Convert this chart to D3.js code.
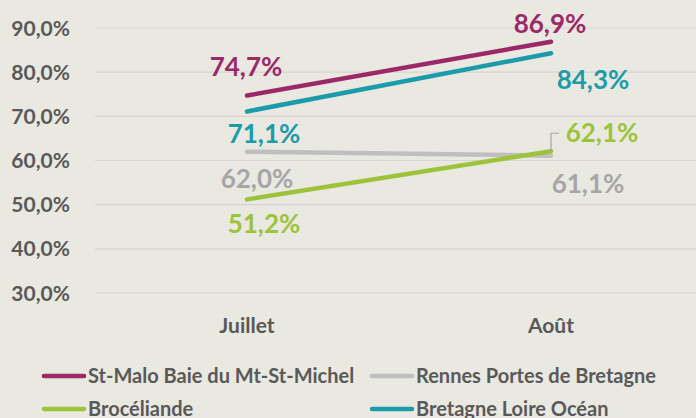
<!DOCTYPE html>
<html>
<head>
<meta charset="utf-8">
<script src="https://cdn.jsdelivr.net/npm/d3@7"></script>
<style>
  body { margin: 0; background: #E9E8E1; }
  svg { display: block; font-family: Lato, "Open Sans", sans-serif; font-weight: bold; }
</style>
</head>
<body>
<div id="chart"></div>
<script>
// data
var months = ["Juillet", "Août"];
var names = ["St-Malo Baie du Mt-St-Michel", "Rennes Portes de Bretagne", "Brocéliande", "Bretagne Loire Océan"];
var stMalo = [74.7, 86.9];
var rennes = [62.0, 61.1];
var broceliande = [51.2, 62.1];
var bretagne = [71.1, 84.3];
var yTicks = [30, 40, 50, 60, 70, 80, 90];

var colors = ["#9B2867", "#BFBFBF", "#9DC33B", "#1C9BAA"];
var labelColors = ["#9B2867", "#A6A6A6", "#9DC33B", "#1C9BAA"];
// label offsets from the point [dx, dy] for Juillet / Août
var labelOffsets = [
  [[-1, -20], [-1, -9]],
  [[10, 36], [37, 37]],
  [[17, 34], [51, -9]],
  [[17, 32], [42, 36]]
];

var series = [stMalo, rennes, broceliande, bretagne].map(function(v, i) {
  return {name: names[i], values: v, color: colors[i], label: labelColors[i], off: labelOffsets[i]};
});

var W = 696, H = 418;
var fmt = function(v) { return v.toFixed(1).replace(".", ",") + "%"; };

var x = d3.scaleBand().domain(months).range([95, 703]);
var y = d3.scaleLinear().domain([30, 90]).range([293, 28]);
var px = function(m) { return x(m) + x.bandwidth() / 2; };

var svg = d3.select("#chart").append("svg")
  .attr("width", W).attr("height", H);

svg.append("rect").attr("width", W).attr("height", H).attr("fill", "#E9E8E1");

// gridlines
svg.append("g").selectAll("line")
  .data(yTicks)
  .enter().append("line")
  .attr("x1", 95).attr("x2", 703)
  .attr("y1", function(d) { return y(d); })
  .attr("y2", function(d) { return y(d); })
  .attr("stroke", "#D6D5D0").attr("stroke-width", 1.2);

// y tick labels
svg.append("g").selectAll("text")
  .data(yTicks)
  .enter().append("text")
  .attr("x", 70).attr("y", function(d) { return y(d); })
  .attr("dy", "0.36em")
  .attr("text-anchor", "end")
  .attr("font-size", 21).attr("fill", "#595959")
  .text(fmt);

// x labels
svg.append("g").selectAll("text")
  .data(months)
  .enter().append("text")
  .attr("x", px).attr("y", 333)
  .attr("text-anchor", "middle")
  .attr("font-size", 21).attr("fill", "#595959")
  .text(function(d) { return d; });

var line = d3.line()
  .x(function(d, i) { return px(months[i]); })
  .y(function(d) { return y(d); });

// draw order: gray first, then others
[1, 2, 3, 0].forEach(function(i) {
  var s = series[i];
  svg.append("path")
    .attr("d", line(s.values))
    .attr("fill", "none")
    .attr("stroke", s.color)
    .attr("stroke-width", 4.5)
    .attr("stroke-linecap", "round");
});

// leader line for Brocéliande Août
var lx = px(months[1]), ly = y(broceliande[1]);
svg.append("path")
  .attr("d", "M" + lx + "," + ly + "V" + (ly - 18) + "H" + (lx + 8))
  .attr("fill", "none").attr("stroke", "#A6A6A6").attr("stroke-width", 1.2);

// data labels
series.forEach(function(s) {
  s.values.forEach(function(v, j) {
    svg.append("text")
      .attr("x", px(months[j]) + s.off[j][0])
      .attr("y", y(v) + s.off[j][1])
      .attr("text-anchor", "middle")
      .attr("font-size", 26).attr("fill", s.label)
      .text(fmt(v));
  });
});

// legend
var legendPos = [[42, 376], [370, 376], [42, 409], [370, 409]];
var lg = svg.append("g").selectAll("g")
  .data(series)
  .enter().append("g")
  .attr("transform", function(d, i) { return "translate(" + legendPos[i][0] + "," + legendPos[i][1] + ")"; });
lg.append("line")
  .attr("x1", 2).attr("x2", 42)
  .attr("stroke", function(d) { return d.color; })
  .attr("stroke-width", 4.5).attr("stroke-linecap", "round");
lg.append("text")
  .attr("x", 46).attr("dy", "0.36em")
  .attr("font-size", 20).attr("fill", "#595959")
  .text(function(d) { return d.name; });
</script>
</body>
</html>
